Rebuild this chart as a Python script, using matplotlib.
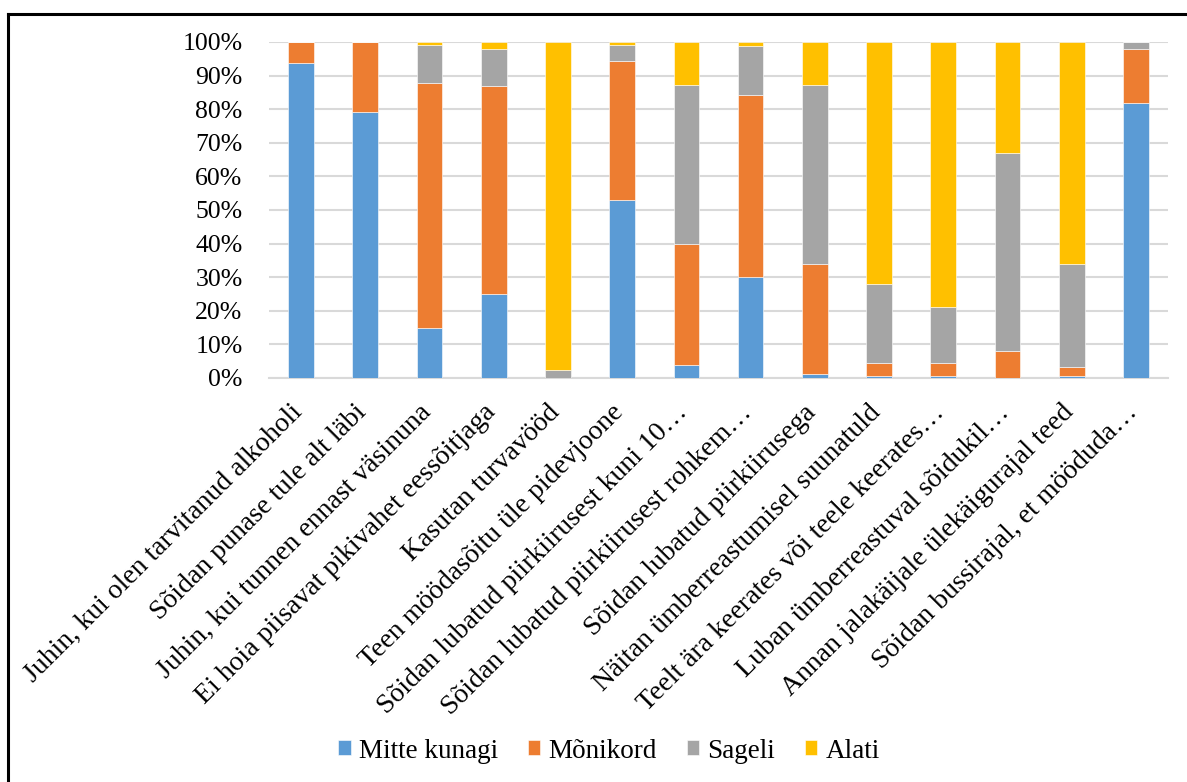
import numpy as np
import matplotlib
matplotlib.use('Agg')
import matplotlib.pyplot as plt
from matplotlib.lines import Line2D
from matplotlib.transforms import ScaledTranslation

plt.rcParams['font.family'] = ['Liberation Serif', 'DejaVu Serif']

kategooriad = [
    'Juhin, kui olen tarvitanud alkoholi',
    'Sõidan punase tule alt läbi',
    'Juhin, kui tunnen ennast väsinuna',
    'Ei hoia piisavat pikivahet eessõitjaga',
    'Kasutan turvavööd',
    'Teen möödasõitu üle pidevjoone',
    'Sõidan lubatud piirkiirusest kuni 10…',
    'Sõidan lubatud piirkiirusest rohkem…',
    'Sõidan lubatud piirkiirusega',
    'Näitan ümberreastumisel suunatuld',
    'Teelt ära keerates või teele keerates…',
    'Luban ümberreastuval sõidukil…',
    'Annan jalakäijale ülekäigurajal teed',
    'Sõidan bussirajal, et mööduda…',
]

mitte_kunagi = [93.8, 79.3, 14.9, 25.0, 0.0, 53.0, 3.9, 30.1, 1.2, 0.5, 0.5, 0.0, 0.5, 81.8]
monikord = [6.2, 20.7, 72.9, 62.0, 0.0, 41.4, 36.1, 54.1, 32.7, 4.1, 4.1, 8.0, 2.8, 16.1]
sageli = [0.0, 0.0, 11.4, 10.9, 2.5, 4.8, 47.1, 14.5, 53.2, 23.3, 16.5, 59.0, 30.6, 2.1]
alati = [0.0, 0.0, 0.8, 2.1, 97.5, 0.8, 12.9, 1.3, 12.9, 72.1, 78.9, 33.0, 66.1, 0.0]

seeriad = ['Mitte kunagi', 'Mõnikord', 'Sageli', 'Alati']
varvid = ['#5B9BD5', '#ED7D31', '#A5A5A5', '#FFC000']

W, H = 1187, 782
fig = plt.figure(figsize=(W / 100, H / 100), dpi=100)
ax = fig.add_axes([269 / W, 1 - 378 / H, (1168 - 269) / W, (378 - 42) / H])

x = np.arange(len(kategooriad))
andmed = np.array([mitte_kunagi, monikord, sageli, alati])
andmed = andmed / andmed.sum(axis=0)
pohi = np.zeros(len(kategooriad))
for nimi, v, c in zip(seeriad, andmed, varvid):
    ax.bar(x, v, 0.4, bottom=pohi, color=c, label=nimi, edgecolor='white', linewidth=0.4, zorder=3)
    pohi += v

ax.set_xlim(-0.5, len(kategooriad) - 0.5)
ax.set_ylim(0, 1)
ax.set_yticks(np.arange(0, 1.01, 0.1))
ax.set_yticklabels([f'{int(round(t * 100))}%' for t in np.arange(0, 1.01, 0.1)], fontsize=18.5)
ax.yaxis.grid(True, color='#D9D9D9', linewidth=1.5, zorder=0)
ax.set_axisbelow(True)
for s in ['top', 'right', 'left']:
    ax.spines[s].set_visible(False)
ax.spines['bottom'].set_color('#D9D9D9')
ax.spines['bottom'].set_linewidth(1.5)
ax.tick_params(axis='both', length=0)
ax.tick_params(axis='y', pad=19)

ax.set_xticks(x)
ax.set_xticklabels(kategooriad, rotation=45, ha='right', va='top',
                   rotation_mode='anchor', fontsize=20)
nihe = ScaledTranslation(-11 / 100, -17 / 100, fig.dpi_scale_trans)
for lbl in ax.get_xticklabels():
    lbl.set_transform(lbl.get_transform() + nihe)

fig.legend(loc='center', bbox_to_anchor=(609 / W, 1 - 751 / H), ncol=4, frameon=False,
           fontsize=19.5, handlelength=0.46, handleheight=0.46, handletextpad=0.3,
           columnspacing=1.1)

# raam ümber joonise
fig.add_artist(Line2D([8 / W, 8 / W], [0, 1 - 13.5 / H], color='black', linewidth=2.2,
                      transform=fig.transFigure))
fig.add_artist(Line2D([8 / W, 1], [1 - 13.5 / H, 1 - 13.5 / H], color='black', linewidth=2.2,
                      transform=fig.transFigure))

fig.savefig('out.png', dpi=100)
